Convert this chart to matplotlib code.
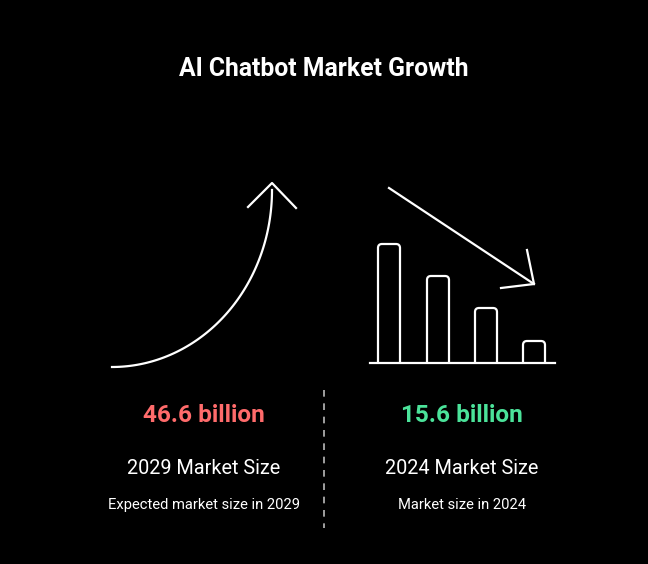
import matplotlib
matplotlib.use("Agg")
import matplotlib.pyplot as plt
import numpy as np
from matplotlib.patches import FancyBboxPatch

title = "AI Chatbot Market Growth"
values = ["46.6 billion", "15.6 billion"]
labels = ["2029 Market Size", "2024 Market Size"]
subs = ["Expected market size in 2029", "Market size in 2024"]
colors = ["#ff6b6b", "#4be39a"]
bar_heights = [119, 87, 55, 22]

plt.rcParams['font.family'] = ['Roboto', 'DejaVu Sans']
fig = plt.figure(figsize=(6.48, 5.64), dpi=100, facecolor="black")
ax = fig.add_axes([0, 0, 1, 1])
ax.set_xlim(0, 648); ax.set_ylim(564, 0); ax.axis("off")
ax.set_facecolor("black")

ax.text(324, 69, title, color="white", fontsize=17.8, fontweight="bold", ha="center", va="center")

# growth curve
t = np.linspace(0, np.pi/2, 100)
cx, cy, rx, ry = 112, 190, 160, 177
ax.plot(cx + rx*np.sin(t), cy + ry*np.cos(t), color="white", lw=1.6)
ax.plot([248, 272, 296], [207, 183, 208], color="white", lw=1.6)

# bars
xs = [389, 438, 486, 534]
for x, h in zip(xs, bar_heights):
    ax.add_patch(FancyBboxPatch((x-11, 363-h), 22, h+6, boxstyle="round,pad=0,rounding_size=4",
                                fc="none", ec="white", lw=1.6))
ax.add_patch(plt.Rectangle((368, 363), 190, 10, fc="black", ec="none", zorder=3))
ax.plot([370, 555], [363, 363], color="white", lw=1.6, zorder=4)
ax.plot([389, 534], [188, 284], color="white", lw=1.6)
ax.plot([501, 534, 527], [288, 284, 250], color="white", lw=1.6)

ax.plot([324, 324], [390, 528], color="#bbbbbb", lw=1.2, ls=(0, (4, 4)))

for cxp, v, l, s, c in zip([204, 462], values, labels, subs, colors):
    ax.text(cxp, 416, v, color=c, fontsize=17.6, fontweight="bold", ha="center", va="center")
    ax.text(cxp, 469, l, color="white", fontsize=14.3, ha="center", va="center")
    ax.text(cxp, 505, s, color="white", fontsize=10.6, ha="center", va="center")

fig.savefig("out.png", dpi=100, facecolor="black")
